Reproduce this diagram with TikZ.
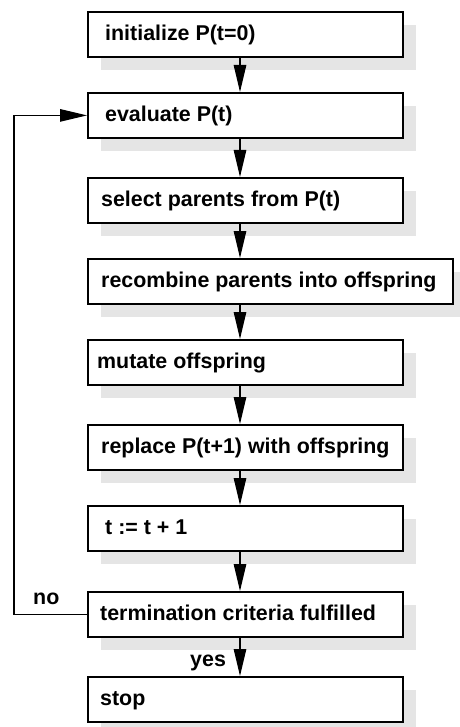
\documentclass[tikz,border=0pt]{standalone}
\usepackage{fontspec}
\setmainfont{Liberation Sans}
\usetikzlibrary{arrows.meta,shadows}
\begin{document}
\begin{tikzpicture}[x=1pt,y=1pt,
  box/.style={draw=black, line width=1.8pt, fill=white, minimum height=45pt, inner sep=0pt, anchor=north west,
    drop shadow={shadow xshift=13pt, shadow yshift=-13pt, fill=black!10, opacity=1}},
  lbl/.style={anchor=base west, inner sep=0pt, font=\fontsize{21.4}{24}\selectfont\bfseries},
  arr/.style={line width=1.2pt, -{Triangle[length=27pt,width=12.5pt]}},
]
\useasboundingbox (0,0) rectangle (459,-727);
\node[box, minimum width=315pt] (b1) at (87,-11) {};
\node[box, minimum width=315pt] (b2) at (87,-92) {};
\node[box, minimum width=315pt] (b3) at (87,-177) {};
\node[box, minimum width=365pt] (b4) at (87,-258) {};
\node[box, minimum width=315pt] (b5) at (87,-339) {};
\node[box, minimum width=315pt] (b6) at (87,-424) {};
\node[box, minimum width=315pt] (b7) at (87,-505) {};
\node[box, minimum width=315pt] (b8) at (87,-591) {};
\node[box, minimum width=315pt] (b9) at (87,-676) {};
\node[lbl] (t1) at ([xshift=18pt,yshift=-6.5pt]b1.west) {initialize P(t=0)};
\node[lbl] (t2) at ([xshift=18pt,yshift=-6.5pt]b2.west) {evaluate P(t)};
\node[lbl] (t3) at ([xshift=14pt,yshift=-6.5pt]b3.west) {select parents from P(t)};
\node[lbl] (t4) at ([xshift=14pt,yshift=-6.5pt]b4.west) {recombine parents into offspring};
\node[lbl] (t5) at ([xshift=10pt,yshift=-6.5pt]b5.west) {mutate offspring};
\node[lbl] (t6) at ([xshift=14pt,yshift=-6.5pt]b6.west) {replace P(t+1) with offspring};
\node[lbl] (t7) at ([xshift=18pt,yshift=-6.5pt]b7.west) {t := t + 1};
\node[lbl] (t8) at ([xshift=13pt,yshift=-6.5pt]b8.west) {termination criteria fulfilled};
\node[lbl] (t9) at ([xshift=13pt,yshift=-6.5pt]b9.west) {stop};
\foreach \a/\b in {b1/b2,b2/b3,b3/b4,b4/b5,b5/b6,b6/b7,b7/b8,b8/b9}{
  \draw[arr] (240,0 |- \a.south) -- (240,0 |- \b.north);
}
\coordinate (lb) at (14,0 |- b8.west);
\coordinate (lt) at (14,0 |- b2.west);
\draw[arr] (b8.west) -- (lb) -- (lt) -- (b2.west);
\node[lbl] (no) at (33,-604) {no};
\node[lbl] (yes) at (190,-666) {yes};
\end{tikzpicture}
\end{document}
